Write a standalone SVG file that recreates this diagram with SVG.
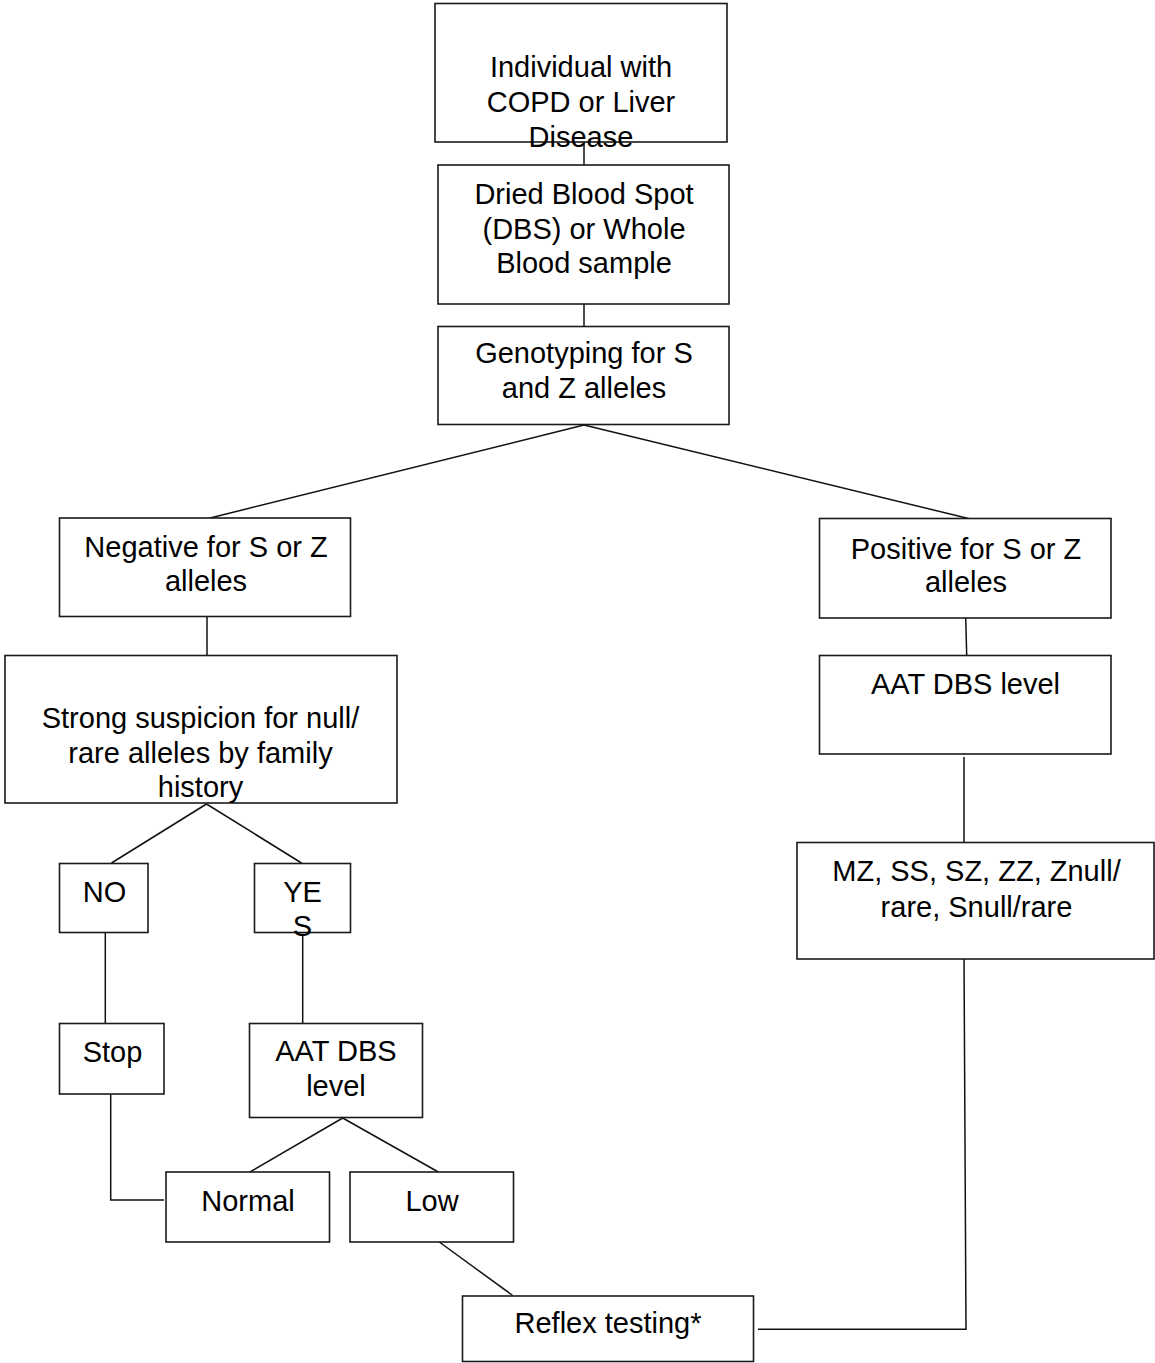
<svg xmlns="http://www.w3.org/2000/svg" width="1155" height="1363" viewBox="0 0 1155 1363">
<style>
.box{fill:#fff;stroke:#1a1a1a;stroke-width:1.6}
.ln{fill:none;stroke:#111;stroke-width:1.5}
text{font-family:"Liberation Sans",Arial,sans-serif;font-size:29px;fill:#000;text-anchor:middle}
</style>
<rect width="1155" height="1363" fill="#fff"/>
<g id="connectors">
<line class="ln" x1="584" y1="142" x2="584" y2="165"/>
<line class="ln" x1="584" y1="304" x2="584" y2="326"/>
<line class="ln" x1="584" y1="425" x2="210" y2="518"/>
<line class="ln" x1="584" y1="425" x2="968.5" y2="518.5"/>
<line class="ln" x1="207" y1="617" x2="207" y2="655"/>
<line class="ln" x1="965.7" y1="618" x2="966.7" y2="655"/>
<line class="ln" x1="964" y1="757" x2="964" y2="842"/>
<line class="ln" x1="206.5" y1="804" x2="111.5" y2="863"/>
<line class="ln" x1="206.5" y1="804" x2="301.5" y2="863"/>
<line class="ln" x1="105.3" y1="932" x2="105.3" y2="1023"/>
<line class="ln" x1="302.7" y1="935" x2="302.7" y2="1023"/>
<polyline class="ln" points="110.7,1094 110.7,1200 164,1200"/>
<line class="ln" x1="342.7" y1="1118" x2="250" y2="1172"/>
<line class="ln" x1="342.7" y1="1118" x2="438.3" y2="1172"/>
<line class="ln" x1="439.3" y1="1242" x2="512.7" y2="1295.5"/>
<polyline class="ln" points="758,1329.3 966,1329.3 964,955"/>
</g>
<g id="n-individual">
<rect class="box" x="435" y="3.5" width="292" height="138.5"/>
<text x="581" y="77">Individual with</text>
<text x="581" y="112">COPD or Liver</text>
<text x="581" y="147">Disease</text>
</g>
<g id="n-sample">
<rect class="box" x="438" y="165" width="291" height="139"/>
<text x="584" y="204">Dried Blood Spot</text>
<text x="584" y="238.5">(DBS) or Whole</text>
<text x="584" y="273">Blood sample</text>
</g>
<g id="n-genotyping">
<rect class="box" x="438" y="326.5" width="291" height="98"/>
<text x="584" y="363">Genotyping for S</text>
<text x="584" y="398">and Z alleles</text>
</g>
<g id="n-negative">
<rect class="box" x="59.5" y="518" width="291" height="98.5"/>
<text x="206" y="557">Negative for S or Z</text>
<text x="206" y="591">alleles</text>
</g>
<g id="n-positive">
<rect class="box" x="819.5" y="518.5" width="291.5" height="99.5"/>
<text x="966" y="559">Positive for S or Z</text>
<text x="966" y="592">alleles</text>
</g>
<g id="n-suspicion">
<rect class="box" x="5" y="655.5" width="392" height="147.5"/>
<text x="200.5" y="728">Strong suspicion for null/</text>
<text x="200.5" y="763">rare alleles by family</text>
<text x="200.5" y="797">history</text>
</g>
<g id="n-aat-right">
<rect class="box" x="819.5" y="655.5" width="291.5" height="98.5"/>
<text x="965.5" y="693.5">AAT DBS level</text>
</g>
<g id="n-genotypes">
<rect class="box" x="797" y="842.5" width="357" height="116.5"/>
<text x="976.5" y="881">MZ, SS, SZ, ZZ, Znull/</text>
<text x="976.5" y="916.5">rare, Snull/rare</text>
</g>
<g id="n-no">
<rect class="box" x="59.5" y="863.5" width="88.5" height="69"/>
<text x="104.5" y="901.5">NO</text>
</g>
<g id="n-yes">
<rect class="box" x="254.5" y="863.5" width="96" height="69"/>
<text x="302.5" y="901.5">YE</text>
<text x="302.5" y="935.5">S</text>
</g>
<g id="n-stop">
<rect class="box" x="59.5" y="1023.5" width="104.5" height="70.5"/>
<text x="112.5" y="1061.5">Stop</text>
</g>
<g id="n-aat-left">
<rect class="box" x="249.5" y="1023.5" width="173" height="94"/>
<text x="336" y="1061">AAT DBS</text>
<text x="336" y="1095.5">level</text>
</g>
<g id="n-normal">
<rect class="box" x="166" y="1172" width="163.5" height="70"/>
<text x="248" y="1211">Normal</text>
</g>
<g id="n-low">
<rect class="box" x="350" y="1172" width="163.5" height="70"/>
<text x="432" y="1211">Low</text>
</g>
<g id="n-reflex">
<rect class="box" x="462.5" y="1296" width="291" height="65.5"/>
<text x="608" y="1332.5">Reflex testing*</text>
</g>
</svg>
